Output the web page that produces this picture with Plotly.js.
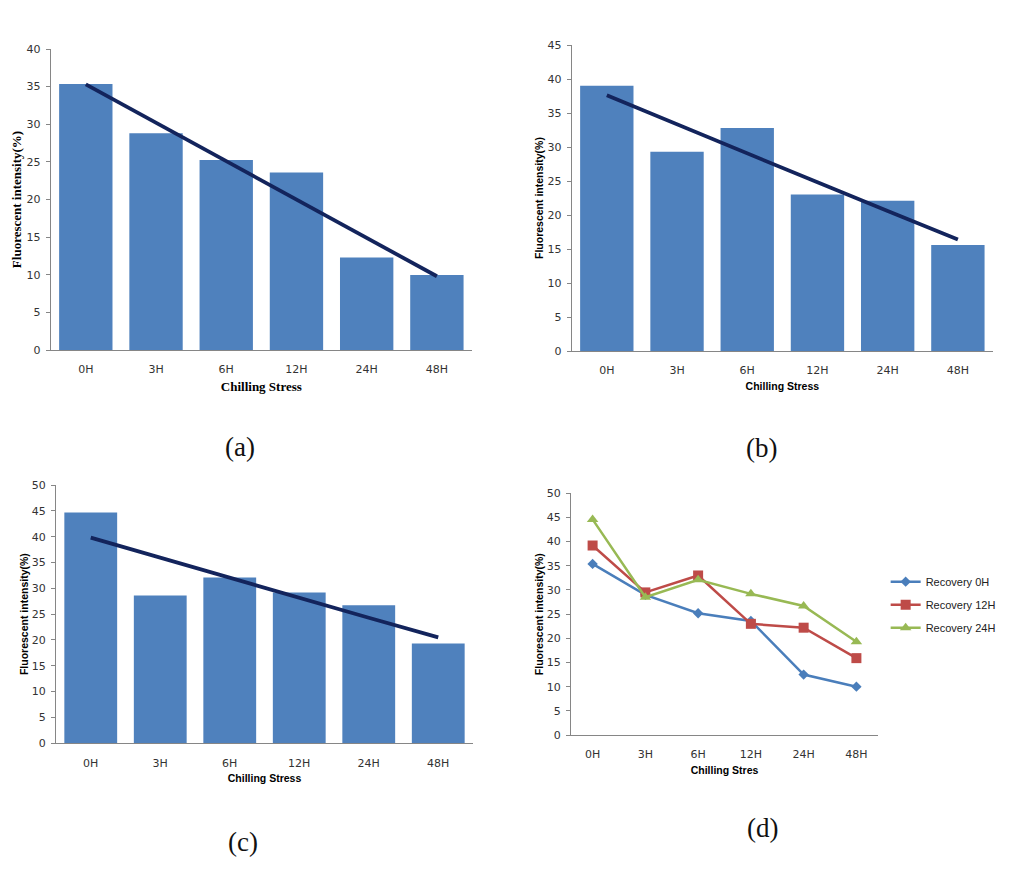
<!DOCTYPE html>
<html>
<head>
<meta charset="utf-8">
<script src="https://cdn.plot.ly/plotly-3.0.1.min.js"></script>
<style>html,body{margin:0;padding:0;background:#fff;}#chart{width:1018px;height:870px;}</style>
</head>
<body>
<div id="chart"></div>
<script>
// ---- data ----
const categories = ["0H", "3H", "6H", "12H", "24H", "48H"];

// (a) Recovery 0H
const barsA  = [35.35, 28.8, 25.25, 23.6, 12.3, 9.97];
const trendA = [35.3, 30.2, 25.1, 20.0, 14.9, 9.8];

// (b) Recovery 12H
const barsB  = [39.0, 29.3, 32.8, 23.0, 22.1, 15.6];
const trendB = [37.6, 33.3, 29.1, 24.8, 20.6, 16.4];

// (c) Recovery 24H
const barsC  = [44.7, 28.6, 32.1, 29.2, 26.7, 19.3];
const trendC = [39.8, 35.9, 32.1, 28.2, 24.3, 20.5];

// (d) line chart series
const seriesNames = ["Recovery 0H", "Recovery 12H", "Recovery 24H"];
const recovery0H  = [35.4, 29.0, 25.2, 23.6, 12.5, 10.0];
const recovery12H = [39.2, 29.5, 33.0, 23.0, 22.2, 15.9];
const recovery24H = [44.6, 28.5, 32.1, 29.2, 26.7, 19.3];

const yTitle = "Fluorescent intensity(%)";
const xTitle = "Chilling Stress";
const xTitleD = "Chilling Stres";
const panelLabels = ["(a)", "(b)", "(c)", "(d)"];

// ---- styles ----
const barColor = "#4f81bd";
const trendColor = "#13245c";
const lineColors = ["#4a7ebb", "#be4b48", "#98b954"];
const markerSymbols = ["diamond", "square", "triangle-up"];
const markerSizes = [8, 10, 10];
const tickFont = {family: "DejaVu Sans, Liberation Sans, sans-serif", size: 11, color: "#333"};
const serifBold = {family: "Liberation Serif, DejaVu Serif, serif", size: 13, color: "#000", weight: "bold"};
const sansBold = {family: "Liberation Sans, Arial, sans-serif", size: 10.5, color: "#000", weight: "bold"};

function bar(y, xa, ya) {
  return {type: "bar", x: categories, y: y, xaxis: xa, yaxis: ya,
          marker: {color: barColor}, showlegend: false, hoverinfo: "x+y"};
}
function trend(y, xa, ya) {
  return {type: "scatter", mode: "lines", x: categories, y: y, xaxis: xa, yaxis: ya,
          line: {color: trendColor, width: 3.8}, showlegend: false};
}

const traces = [
  bar(barsA, "x", "y"), trend(trendA, "x", "y"),
  bar(barsB, "x2", "y2"), trend(trendB, "x2", "y2"),
  bar(barsC, "x3", "y3"), trend(trendC, "x3", "y3")
];
[recovery0H, recovery12H, recovery24H].forEach((s, i) => {
  traces.push({type: "scatter", mode: "lines+markers", name: seriesNames[i],
    x: categories, y: s, xaxis: "x4", yaxis: "y4", legendgroup: "g" + i,
    line: {color: lineColors[i], width: 2.5},
    marker: {color: lineColors[i], symbol: markerSymbols[i], size: markerSizes[i]}});
});

function xaxis(domain, anchor, titleText, titleFont, standoff) {
  return {domain: domain, anchor: anchor, type: "category",
    showline: true, linecolor: "#868686", linewidth: 1, ticks: "",
    showgrid: false, zeroline: false, tickfont: tickFont, ticklabelstandoff: 9,
    title: {text: titleText, font: titleFont, standoff: standoff}, automargin: false, fixedrange: true};
}
function yaxis(domain, anchor, max, titleText, titleFont, standoff) {
  return {domain: domain, anchor: anchor, range: [0, max], dtick: 5,
    showline: true, linecolor: "#868686", linewidth: 1, ticks: "outside", ticklen: 4,
    tickcolor: "#868686", showgrid: false, zeroline: false, tickfont: tickFont,
    ticklabelstandoff: 3,
    title: {text: titleText, font: titleFont, standoff: standoff}, automargin: false, fixedrange: true};
}

const W = 1018, H = 870;
const px = (a, b) => [a / W, b / W];
const py = (top, bottom) => [(H - bottom) / H, (H - top) / H];

const layout = {
  width: W, height: H, margin: {l: 0, r: 0, t: 0, b: 0},
  paper_bgcolor: "#fff", plot_bgcolor: "#fff", bargap: 0.24,
  showlegend: true,
  legend: {x: 0.870, y: 0.305, xanchor: "left", yanchor: "middle",
           font: {family: "Liberation Sans, Arial, sans-serif", size: 11, color: "#222"},
           tracegroupgap: 4, traceorder: "grouped", bgcolor: "rgba(0,0,0,0)"},
  xaxis:  xaxis(px(50.7, 472), "y", xTitle, serifBold, 6),
  yaxis:  yaxis(py(49, 350), "x", 40, yTitle, serifBold, 1),
  xaxis2: xaxis(px(571.7, 993), "y2", xTitle, sansBold, 6),
  yaxis2: yaxis(py(45, 351), "x2", 45, yTitle, sansBold, 1),
  xaxis3: xaxis(px(56, 473), "y3", xTitle, sansBold, 6),
  yaxis3: yaxis(py(485, 743.3), "x3", 50, yTitle, sansBold, 1),
  xaxis4: xaxis(px(571, 878), "y4", xTitleD, sansBold, 6),
  yaxis4: yaxis(py(493.3, 735), "x4", 50, yTitle, sansBold, 1),
  annotations: [
    [240, 447], [761, 448], [243, 842], [762, 828]
  ].map((p, i) => ({text: panelLabels[i], xref: "paper", yref: "paper",
      x: p[0] / W, y: (H - p[1]) / H, xanchor: "center", yanchor: "middle",
      showarrow: false, font: {family: "Liberation Serif, DejaVu Serif, serif", size: 27, color: "#111"}}))
};

Plotly.newPlot("chart", traces, layout, {displayModeBar: false, staticPlot: true});
</script>
</body>
</html>
